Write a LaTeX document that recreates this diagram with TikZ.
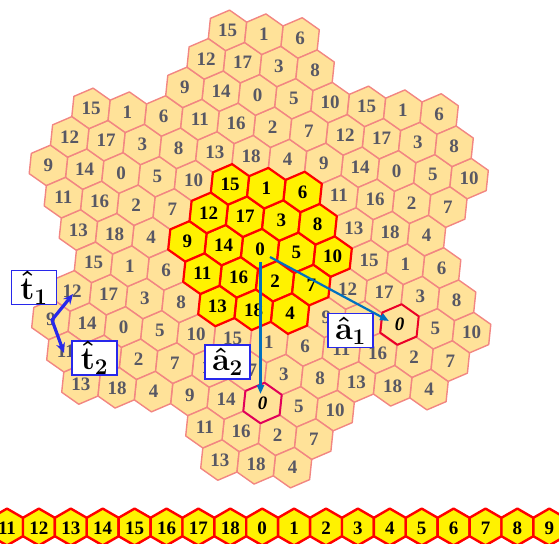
\documentclass[tikz,border=0pt]{standalone}
\usepackage{fontspec}
\setmainfont{Liberation Serif}
\usetikzlibrary{arrows.meta}
\definecolor{palefill}{RGB}{255,226,153}
\definecolor{paleedge}{RGB}{242,134,130}
\definecolor{labgray}{RGB}{88,88,100}
\definecolor{arrowblue}{RGB}{0,112,192}
\definecolor{boxblue}{RGB}{40,40,235}
\definecolor{markred}{RGB}{235,0,40}
\definecolor{markcrimson}{RGB}{225,0,90}
\tikzset{
  hexpale/.style={fill=palefill, draw=paleedge, line width=1.4pt, line join=round},
  hexcore/.style={fill=yellow, draw=red, line width=2.2pt, line join=round},
  hexmark/.style={draw=#1, line width=2pt, line join=round},
  labpale/.style={text=labgray, inner sep=0pt, font=\fontsize{19}{19}\selectfont\bfseries},
  labcore/.style={text=black, inner sep=0pt, font=\fontsize{19}{19}\selectfont\bfseries},
  labmark/.style={text=black, inner sep=0pt, font=\fontsize{19}{19}\selectfont\bfseries\itshape},
  vecarrow/.style={draw=arrowblue, line width=2.2pt, -{Triangle[length=9pt,width=7pt]}},
  tarrow/.style={draw=boxblue, line width=3.2pt, line join=round, {Stealth[length=10pt,width=9pt]}-{Stealth[length=10pt,width=9pt]}},
  lbox/.style={draw=boxblue, fill=white, line width=1.6pt, minimum width=45pt, minimum height=34pt, inner sep=0pt, font=\fontsize{24}{24}\selectfont\boldmath},
  striphex/.style={fill=yellow, draw=red, line width=2.4pt, line join=round},
}
\newcommand\cells{1/0/5, 2/0/10, -1/0/14, -2/0/9, 0/1/2, 0/2/4, 0/-1/17, 0/-2/15, -1/1/16, -2/2/13, 1/-1/3, 2/-2/6, 1/1/7, -1/-1/12, 2/-1/8, 1/-2/1, -1/2/18, -2/1/11}
\newcommand\boxlab[2]{\raisebox{-3pt}{\scalebox{1.3}{$\hat{\mathbf{#1}}_{\mathbf{#2}}$}}}
\begin{document}
\begin{tikzpicture}[x=1pt, y=-1pt]
\useasboundingbox (0,0) rectangle (559,543);
\clip (0,0) rectangle (559,543);
% surrounding clusters
\foreach \m/\n in {1/0,0/1,-1/0,0/-1,1/-1,-1/1}{
  \foreach \i/\j/\l in \cells{
    \pgfmathsetmacro\cx{260+\m*139+\n*2.5+\i*36.3+\j*15}
    \pgfmathsetmacro\cy{249+\m*76+\n*154+\i*3.8+\j*32.3}
    \draw[hexpale, shift={(\cx,\cy)}] (17.1,12.03) -- (-2.1,20.27) -- (-19.2,8.23) -- (-17.1,-12.03) -- (2.1,-20.27) -- (19.2,-8.23) -- cycle;
    \node[labpale] (p\m\n-\l) at (\cx,\cy) {\l};
  }
}
\foreach \m/\n in {-1/0,0/-1,1/-1,-1/1}{
  \pgfmathsetmacro\cx{260+\m*139+\n*2.5}
  \pgfmathsetmacro\cy{249+\m*76+\n*154}
  \draw[hexpale, shift={(\cx,\cy)}] (17.1,12.03) -- (-2.1,20.27) -- (-19.2,8.23) -- (-17.1,-12.03) -- (2.1,-20.27) -- (19.2,-8.23) -- cycle;
  \node[labpale] (p\m\n-0) at (\cx,\cy) {0};
}
% marked zero cells at a1 and a2
\draw[hexpale, hexmark=markred, shift={(399.5,324.5)}] (17.1,12.03) -- (-2.1,20.27) -- (-19.2,8.23) -- (-17.1,-12.03) -- (2.1,-20.27) -- (19.2,-8.23) -- cycle;
\node[labmark] (m1) at (399.5,324.5) {0};
\draw[hexpale, hexmark=markcrimson, shift={(262.5,403)}] (17.1,12.03) -- (-2.1,20.27) -- (-19.2,8.23) -- (-17.1,-12.03) -- (2.1,-20.27) -- (19.2,-8.23) -- cycle;
\node[labmark] (m2) at (262.5,403) {0};
% central cluster
\foreach \i/\j/\l in {0/0/0, 1/0/5, 2/0/10, -1/0/14, -2/0/9, 0/1/2, 0/2/4, 0/-1/17, 0/-2/15, -1/1/16, -2/2/13, 1/-1/3, 2/-2/6, 1/1/7, -1/-1/12, 2/-1/8, 1/-2/1, -1/2/18, -2/1/11}{
  \pgfmathsetmacro\cx{260+\i*36.3+\j*15}
  \pgfmathsetmacro\cy{249+\i*3.8+\j*32.3}
  \draw[hexcore, shift={(\cx,\cy)}] (17.1,12.03) -- (-2.1,20.27) -- (-19.2,8.23) -- (-17.1,-12.03) -- (2.1,-20.27) -- (19.2,-8.23) -- cycle;
  \node[labcore] (c-\l) at (\cx,\cy) {\l};
}
% lattice vectors
\coordinate (a1s) at (270,257);
\coordinate (a1e) at (389,321);
\coordinate (a2s) at (260.5,262);
\coordinate (a2e) at (260.5,394);
\draw[vecarrow] (a1s) -- (a1e);
\draw[vecarrow] (a2s) -- (a2e);
\node[lbox] (ba1) at (350.5,330.5) {\boxlab{a}{1}};
\node[lbox] (ba2) at (227.5,362) {\boxlab{a}{2}};
% t vectors
\coordinate (to) at (52,320);
\coordinate (t1e) at (73,294);
\coordinate (t2e) at (64,353);
\draw[tarrow] (t1e) -- (to) -- (t2e);
\node[lbox] (bt1) at (34,287.5) {\boxlab{t}{1}};
\node[lbox] (bt2) at (94.5,358) {\boxlab{t}{2}};
% bottom strip
\foreach \l [count=\k from 0] in {11,12,13,14,15,16,17,18,0,1,2,3,4,5,6,7,8,9}{
  \pgfmathsetmacro\sx{7+\k*31.9}
  \draw[striphex, shift={(\sx,527)}] (0,-18.42) -- (15.95,-9.21) -- (15.95,9.21) -- (0,18.42) -- (-15.95,9.21) -- (-15.95,-9.21) -- cycle;
  \node[labcore] (s\k) at (\sx,528) {\l};
}
\end{tikzpicture}
\end{document}
